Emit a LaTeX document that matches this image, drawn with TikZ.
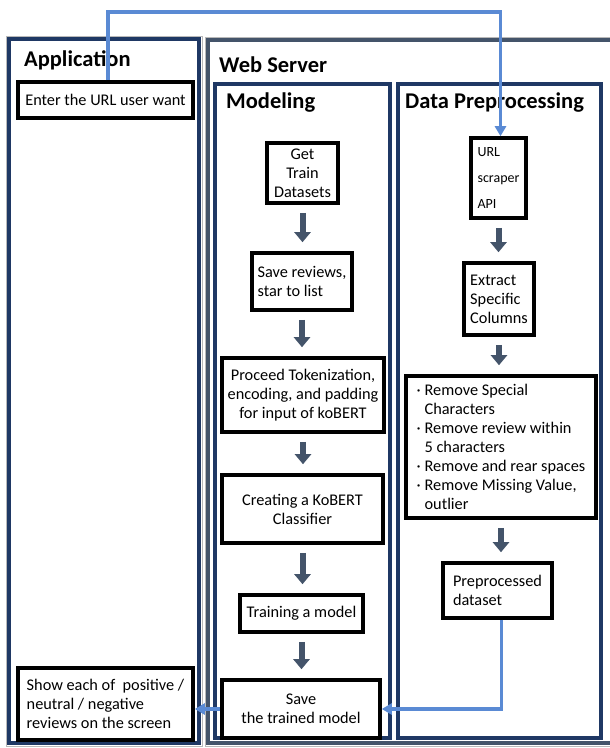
\documentclass[tikz,border=0pt]{standalone}
\usepackage{fontspec}
\setmainfont{Carlito}
\usetikzlibrary{arrows.meta}
\definecolor{navy}{RGB}{31,56,100}
\definecolor{slate}{RGB}{68,84,106}
\definecolor{flowblue}{RGB}{90,138,212}

\begin{document}
\begin{tikzpicture}[x=1pt,y=-1pt,
  panel/.style={draw=navy,line width=4.6pt},
  panelrim/.style={draw=gray!55,line width=0.8pt},
  stepbox/.style={draw=black,line width=3.6pt,fill=white,inner sep=2pt,align=center,
    font=\fontsize{16.3}{19}\selectfont},
  leftbox/.style={stepbox,align=left},
  title/.style={anchor=west,inner sep=0pt,font=\fontsize{22.5}{26}\selectfont\bfseries},
  flow/.style={draw=slate,line width=6pt,-{Triangle[width=16pt,length=10pt]},
    shorten <=8pt,shorten >=9pt},
  link/.style={draw=flowblue,line width=3.8pt,-{Triangle[width=11pt,length=10pt]}},
]
\useasboundingbox (0,0) rectangle (610,748);
\fill[white] (0,0) rectangle (610,748);

% panels
\draw[panelrim] (6,36) rectangle (202,746);
\draw[panel] (9,39) rectangle (199,743);
\draw[panelrim] (205,37) rectangle (630,746);
\draw[draw=slate,line width=4pt] (208,40) rectangle (625,743);
\draw[panel] (215,84) rectangle (390,738);
\draw[panel] (398,84) rectangle (601,738);

% titles
\node[title] (tapp) at (24,60) {Application};
\node[title] (tweb) at (219,65) {Web Server};
\node[title] (tmod) at (226,103) {Modeling};
\node[title] (tdp) at (405,103) {Data Preprocessing};

% application column
\node[stepbox,minimum width=175pt,minimum height=36pt] (enter) at (105.5,100) {Enter the URL user want};
\node[leftbox,minimum width=175pt,minimum height=72pt] (show) at (105.5,704)
  {Show each of\ \ positive /\\neutral / negative\\reviews on the screen};

% modeling column
\node[stepbox,minimum width=71pt,minimum height=60pt] (get) at (302.5,173) {Get\\Train\\Datasets};
\node[leftbox,minimum width=100pt,minimum height=57pt] (saverev) at (302,281.5) {Save reviews,\\star to list};
\node[stepbox,minimum width=162pt,minimum height=74pt] (proceed) at (303,395)
  {Proceed Tokenization,\\encoding, and padding\\for input of koBERT};
\node[stepbox,minimum width=161pt,minimum height=68pt] (creating) at (302.5,509) {Creating a KoBERT\\Classifier};
\node[stepbox,minimum width=123pt,minimum height=37pt] (training) at (301.5,613.5) {Training a model};
\node[stepbox,minimum width=158pt,minimum height=58pt] (savemodel) at (301,709) {Save\\the trained model};

% data preprocessing column
\node[leftbox,minimum width=55pt,minimum height=80pt,font=\fontsize{14}{26}\selectfont] (url) at (498.5,178)
  {URL\\scraper\\API};
\node[leftbox,minimum width=70pt,minimum height=72pt] (extract) at (499,299) {Extract\\Specific\\Columns};
\node[leftbox,minimum width=190pt,minimum height=142pt] (clean) at (501,447)
  {\makebox[8pt][l]{·}Remove Special\\
   \hspace*{8pt}Characters\\
   \makebox[8pt][l]{·}Remove review within\\
   \hspace*{8pt}5 characters\\
   \makebox[8pt][l]{·}Remove and rear spaces\\
   \makebox[8pt][l]{·}Remove Missing Value,\\
   \hspace*{8pt}outlier};
\node[leftbox,minimum width=109pt,minimum height=55pt] (prep) at (497.5,590.5) {Preprocessed\\dataset};

% step arrows
\draw[flow] (get.south) -- (get.south |- saverev.north);
\draw[flow] (saverev.south) -- (saverev.south |- proceed.north);
\draw[flow] (proceed.south) -- (proceed.south |- creating.north);
\draw[flow] (creating.south) -- (creating.south |- training.north);
\draw[flow] (training.south) -- (training.south |- savemodel.north);
\draw[flow] (url.south) -- (url.south |- extract.north);
\draw[flow] (extract.south) -- (extract.south |- clean.north);
\draw[flow] (clean.south) -- (clean.south |- prep.north);

% data flow links
\draw[link] ([xshift=2.5pt]enter.north) -- ++(0,-68) -| ([xshift=2pt]url.north);
\draw[link] ([xshift=4pt]prep.south) |- (savemodel.east);
\draw[link] (savemodel.west) -- (show.east |- savemodel.west);
\end{tikzpicture}
\end{document}
